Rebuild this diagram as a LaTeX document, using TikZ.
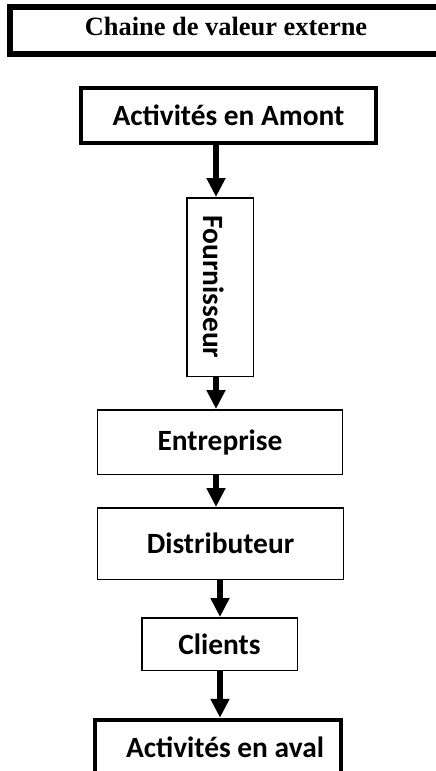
\documentclass[tikz,border=0pt]{standalone}
\usepackage{fontspec}
\setmainfont{Carlito}
\newfontfamily\titlefont{Liberation Serif}
\usetikzlibrary{arrows.meta}
\begin{document}
\begin{tikzpicture}[x=1bp,y=-1bp,
  titlebox/.style={draw, line width=6bp, inner sep=0pt,
    font=\titlefont\bfseries\fontsize{26.5}{30}\selectfont, text depth=8bp},
  heavybox/.style={draw, line width=4.5bp, inner sep=0pt,
    font=\bfseries\fontsize{29.5}{34}\selectfont},
  plainbox/.style={draw, line width=1.5bp, inner sep=0pt,
    font=\bfseries\fontsize{29.5}{34}\selectfont},
  flow/.style={line width=6bp, -{Triangle[width=18bp,length=19bp]}}]
\useasboundingbox (0,0) rectangle (436,771);

% title banner, running off the right edge
\node[titlebox, minimum width=432bp, minimum height=47bp] (title) at (226,30.5)
  {Chaine de valeur externe};

% chain of actors
\node[heavybox, minimum width=294.5bp, minimum height=54.5bp] (amont) at (228.5,115.5)
  {Activités en Amont};
\node[plainbox, minimum width=66.5bp, minimum height=178.5bp] (fourn) at (220,287)
  {\rotatebox{-90}{Fournisseur}\hspace*{12bp}};
\node[plainbox, minimum width=244.5bp, minimum height=64.5bp] (entr) at (220,442)
  {Entreprise};
\node[plainbox, minimum width=245.5bp, minimum height=71.5bp] (distr) at (220.5,543.5)
  {Distributeur};
\node[plainbox, minimum width=155.5bp, minimum height=52.5bp] (cli) at (219.5,644)
  {Clients};
\node[heavybox, minimum width=246bp, minimum height=55bp] (aval) at (218,747.5)
  {\hspace*{14bp}Activités en aval};

% vertical axes of the arrows
\coordinate (upper) at (216,0);
\coordinate (lower) at (220,0);

\draw[flow] (amont.south -| upper) -- (fourn.north -| upper);
\draw[flow] (fourn.south -| upper) -- (entr.north -| upper);
\draw[flow] (entr.south -| upper) -- (distr.north -| upper);
\draw[flow] (distr.south -| lower) -- (cli.north -| lower);
\draw[flow] (cli.south -| lower) -- (aval.north -| lower);
\end{tikzpicture}
\end{document}
